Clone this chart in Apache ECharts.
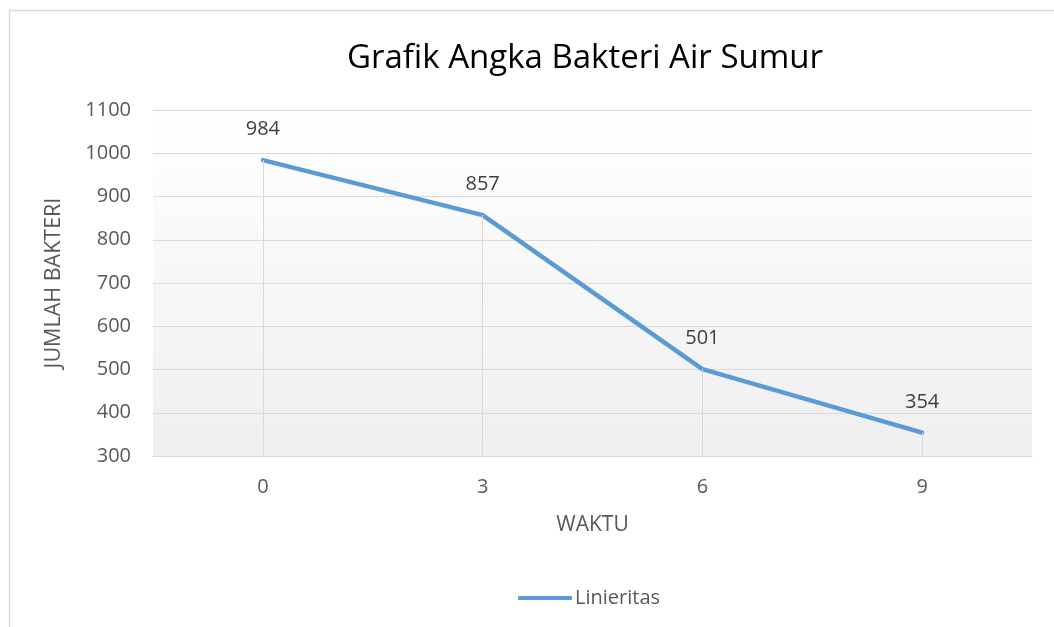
<!DOCTYPE html>
<html><head><meta charset="utf-8">
<script src="https://cdn.jsdelivr.net/npm/echarts@6/dist/echarts.min.js"></script>
<style>html,body{margin:0;padding:0;background:#fff}#c{width:1054px;height:627px}</style>
</head><body><div id="c"></div>
<script>
const categories = ['0', '3', '6', '9'];
const values = [984, 857, 501, 354];
const yMin = 300, yMax = 1100, yStep = 100;
const titleText = 'Grafik Angka Bakteri Air Sumur';
const seriesName = 'Linieritas';
const xName = 'WAKTU';
const yName = 'JUMLAH BAKTERI';

const FONT = 'Open Sans';
const chart = echarts.init(document.getElementById('c'));
chart.setOption({
  backgroundColor: '#fff',
  animation: false,
  textStyle: { fontFamily: FONT },
  title: {
    text: titleText, left: 580, top: 37, textAlign: 'center',
    textStyle: { fontFamily: FONT, fontSize: 33, fontWeight: 'normal', color: '#000' }
  },
  graphic: [{
    type: 'polyline', silent: true,
    shape: { points: [[9.5, 700], [9.5, 10.5], [1100, 10.5]] },
    style: { stroke: '#d9d9d9', lineWidth: 1.5, fill: null }
  }],
  legend: {
    top: 583, left: 513,
    data: [{ name: seriesName, icon: 'roundRect' }],
    itemWidth: 54, itemHeight: 4, itemGap: 5,
    textStyle: { fontFamily: FONT, fontSize: 20, color: '#595959', padding: [0, 0, 0, -2] }
  },
  grid: {
    left: 153, right: 22, top: 110, bottom: 171,
    show: true, borderWidth: 0,
    backgroundColor: new echarts.graphic.LinearGradient(0, 0, 0, 1, [
      { offset: 0, color: '#ffffff' }, { offset: 1, color: '#efefef' }
    ])
  },
  xAxis: {
    type: 'category', data: categories, boundaryGap: true,
    name: xName, nameLocation: 'middle', nameGap: 59,
    nameTextStyle: { fontFamily: FONT, fontSize: 21, color: '#595959' },
    axisLine: { lineStyle: { color: '#d9d9d9', width: 1 } },
    axisTick: { show: false },
    axisLabel: { fontFamily: FONT, fontSize: 20, color: '#595959', margin: 21 },
    splitLine: { show: false }
  },
  yAxis: {
    type: 'value', min: yMin, max: yMax, interval: yStep,
    name: yName, nameLocation: 'middle', nameGap: 88, nameRotate: 90,
    nameTextStyle: { fontFamily: FONT, fontSize: 21.5, color: '#595959' },
    axisLine: { show: false }, axisTick: { show: false },
    axisLabel: { fontFamily: FONT, fontSize: 20, color: '#595959', margin: 22,
                 formatter: v => String(v) },
    splitLine: { lineStyle: { color: '#d9d9d9', width: 1 } }
  },
  series: [{
    name: seriesName, type: 'line', data: values,
    symbol: 'circle', symbolSize: 1, showSymbol: true,
    lineStyle: { color: '#5B9BD5', width: 4.5, cap: 'round', join: 'round' },
    itemStyle: { color: '#5B9BD5' },
    label: {
      show: true, position: 'top', distance: 20,
      fontFamily: FONT, fontSize: 20, color: '#404040'
    },
    markLine: {
      silent: true, symbol: 'none', animation: false,
      label: { show: false },
      lineStyle: { color: '#d9d9d9', width: 1, type: 'solid' },
      data: categories.map((c, i) => [{ coord: [c, values[i]] }, { coord: [c, yMin] }])
    },
    z: 3
  }]
});
</script></body></html>
